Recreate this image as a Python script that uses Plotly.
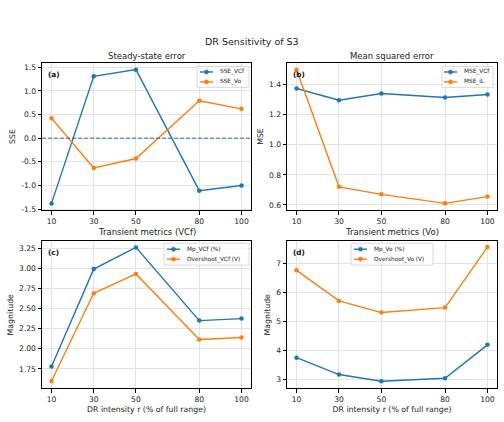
import plotly.graph_objects as go

r_vals = [10, 30, 50, 80, 100]
sse_vcf = [-1.38, 1.31, 1.45, -1.11, -1.00]
sse_vo = [0.42, -0.63, -0.43, 0.79, 0.62]
mse_vcf = [1.375, 1.297, 1.342, 1.315, 1.335]
mse_il = [1.50, 0.72, 0.67, 0.61, 0.655]
mp_vcf = [1.78, 2.99, 3.26, 2.35, 2.375]
os_vcf = [1.60, 2.69, 2.93, 2.115, 2.14]
mp_vo = [3.75, 3.17, 2.94, 3.04, 4.19]
os_vo = [6.75, 5.70, 5.30, 5.47, 7.55]
sse_ticks = [-1.5, -1.0, -0.5, 0.0, 0.5, 1.0, 1.5]

C0 = "#1f77b4"
C1 = "#ff7f0e"
FONT = "DejaVu Sans"

W, H = 504, 422
def px_x(a, b):
    return [a / W, b / W]
def px_y(top, bot):
    return [1 - bot / H, 1 - top / H]

XL = px_x(42, 251)
XR = px_x(287, 497)
YT = px_y(63, 212)
YB = px_y(243, 391)

fig = go.Figure()

def add(xax, yax, y, name, color):
    fig.add_trace(go.Scatter(
        x=r_vals, y=y, name=name, mode="lines+markers",
        line=dict(color=color, width=1.4),
        marker=dict(color=color, size=4.5),
        xaxis=xax, yaxis=yax, showlegend=False))

add("x", "y", sse_vcf, "SSE_VCf", C0)
add("x", "y", sse_vo, "SSE_Vo", C1)
add("x2", "y2", mse_vcf, "MSE_VCf", C0)
add("x2", "y2", mse_il, "MSE_iL", C1)
add("x3", "y3", mp_vcf, "Mp_VCf (%)", C0)
add("x3", "y3", os_vcf, "Overshoot_VCf (V)", C1)
add("x4", "y4", mp_vo, "Mp_Vo (%)", C0)
add("x4", "y4", os_vo, "Overshoot_Vo (V)", C1)

axis_common = dict(
    showline=True, linecolor="black", linewidth=1, mirror=True,
    ticks="outside", ticklen=3.5, tickwidth=0.8, tickcolor="black",
    showgrid=True, gridcolor="#e3e3e3", gridwidth=0.8,
    zeroline=False, tickfont=dict(family=FONT, size=7.6, color="#222"),
)
xcommon = dict(axis_common, tickvals=r_vals, range=[5.5, 104.5])

def title(t, s=4):
    return dict(text=t, font=dict(family=FONT, size=7.8, color="#222"), standoff=s)

layout = dict(
    width=W, height=H, margin=dict(l=0, r=0, t=0, b=0),
    paper_bgcolor="white", plot_bgcolor="white",
    font=dict(family=FONT), showlegend=False,
    xaxis=dict(xcommon, domain=XL, anchor="y"),
    yaxis=dict(axis_common, domain=YT, anchor="x", range=[-1.53, 1.6],
               tickvals=sse_ticks, ticktext=[f"{v:.1f}" for v in sse_ticks],
               title=title("SSE")),
    xaxis2=dict(xcommon, domain=XR, anchor="y2"),
    yaxis2=dict(axis_common, domain=YT, anchor="x2", range=[0.5625, 1.548],
                tickvals=[0.6, 0.8, 1.0, 1.2, 1.4], tickformat=".1f",
                title=title("MSE")),
    xaxis3=dict(xcommon, domain=XL, anchor="y3",
                title=title("DR intensity r (% of full range)", 3)),
    yaxis3=dict(axis_common, domain=YB, anchor="x3", range=[1.51, 3.336],
                tickvals=[1.75, 2.0, 2.25, 2.5, 2.75, 3.0, 3.25], tickformat=".2f",
                title=title("Magnitude")),
    xaxis4=dict(xcommon, domain=XR, anchor="y4",
                title=title("DR intensity r (% of full range)", 3)),
    yaxis4=dict(axis_common, domain=YB, anchor="x4", range=[2.70, 7.75],
                tickvals=[3, 4, 5, 6, 7], title=title("Magnitude")),
)
fig.update_layout(**layout)

# zero line in (a)
fig.add_shape(type="line", xref="x domain", yref="y", x0=0, x1=1, y0=0, y1=0,
              line=dict(color="#1f5a9a", width=0.9, dash="4px,2px"))

anns = []
def sub_title(text, xd, ypix):
    anns.append(dict(text=text, xref="paper", yref="paper", x=(xd[0] + xd[1]) / 2,
                     y=1 - ypix / H, xanchor="center", yanchor="middle", showarrow=False,
                     font=dict(family=FONT, size=8.5, color="#222")))
sub_title("Steady-state error", XL, 56)
sub_title("Mean squared error", XR, 56)
sub_title("Transient metrics (VCf)", XL, 234)
sub_title("Transient metrics (Vo)", XR, 234)
anns.append(dict(text="DR Sensitivity of S3", xref="paper", yref="paper", x=0.5, y=1 - 42 / H,
                 xanchor="center", yanchor="middle", showarrow=False,
                 font=dict(family=FONT, size=9.5, color="#222")))

def panel(lbl, xd, ytop):
    anns.append(dict(text="<b>" + lbl + "</b>", xref="paper", yref="paper",
                     x=xd[0] + 4 / W, y=ytop - 5 / H, xanchor="left", yanchor="top",
                     showarrow=False, font=dict(family=FONT, size=7.3, color="#111")))
panel("(a)", XL, YT[1])
panel("(b)", XR, YT[1])
panel("(c)", XL, YB[1])
panel("(d)", XR, YB[1])

# manual compact legends (matplotlib-like)
def legend(x0, x1, y0, y1, names, ys, lx0):
    fig.add_shape(type="rect", xref="paper", yref="paper",
                  x0=x0 / W, x1=x1 / W, y0=1 - y1 / H, y1=1 - y0 / H,
                  line=dict(color="#d0d0d0", width=0.8), fillcolor="rgba(255,255,255,0.85)")
    for (name, color), yy in zip(names, ys):
        fig.add_shape(type="line", xref="paper", yref="paper",
                      x0=lx0 / W, x1=(lx0 + 13) / W, y0=1 - yy / H, y1=1 - yy / H,
                      line=dict(color=color, width=1.4))
        cx, r = lx0 + 6.5, 2.1
        fig.add_shape(type="circle", xref="paper", yref="paper",
                      x0=(cx - r) / W, x1=(cx + r) / W, y0=1 - (yy + r) / H, y1=1 - (yy - r) / H,
                      line=dict(color=color, width=0.5), fillcolor=color)
        anns.append(dict(text=name, xref="paper", yref="paper", x=(lx0 + 18) / W, y=1 - yy / H,
                         xanchor="left", yanchor="middle", showarrow=False,
                         font=dict(family=FONT, size=5.8, color="#222")))

legend(197, 249, 67, 88, [("SSE_VCf", C0), ("SSE_Vo", C1)], [72.5, 82.5], 200)
legend(442, 493, 67, 88, [("MSE_VCf", C0), ("MSE_iL", C1)], [72.5, 82.5], 444)
legend(164, 249, 245, 267, [("Mp_VCf (%)", C0), ("Overshoot_VCf (V)", C1)], [251, 261], 167)
legend(351, 433, 245, 267, [("Mp_Vo (%)", C0), ("Overshoot_Vo (V)", C1)], [251, 261], 354)

fig.update_layout(annotations=anns)

fig.write_html("out.html")
